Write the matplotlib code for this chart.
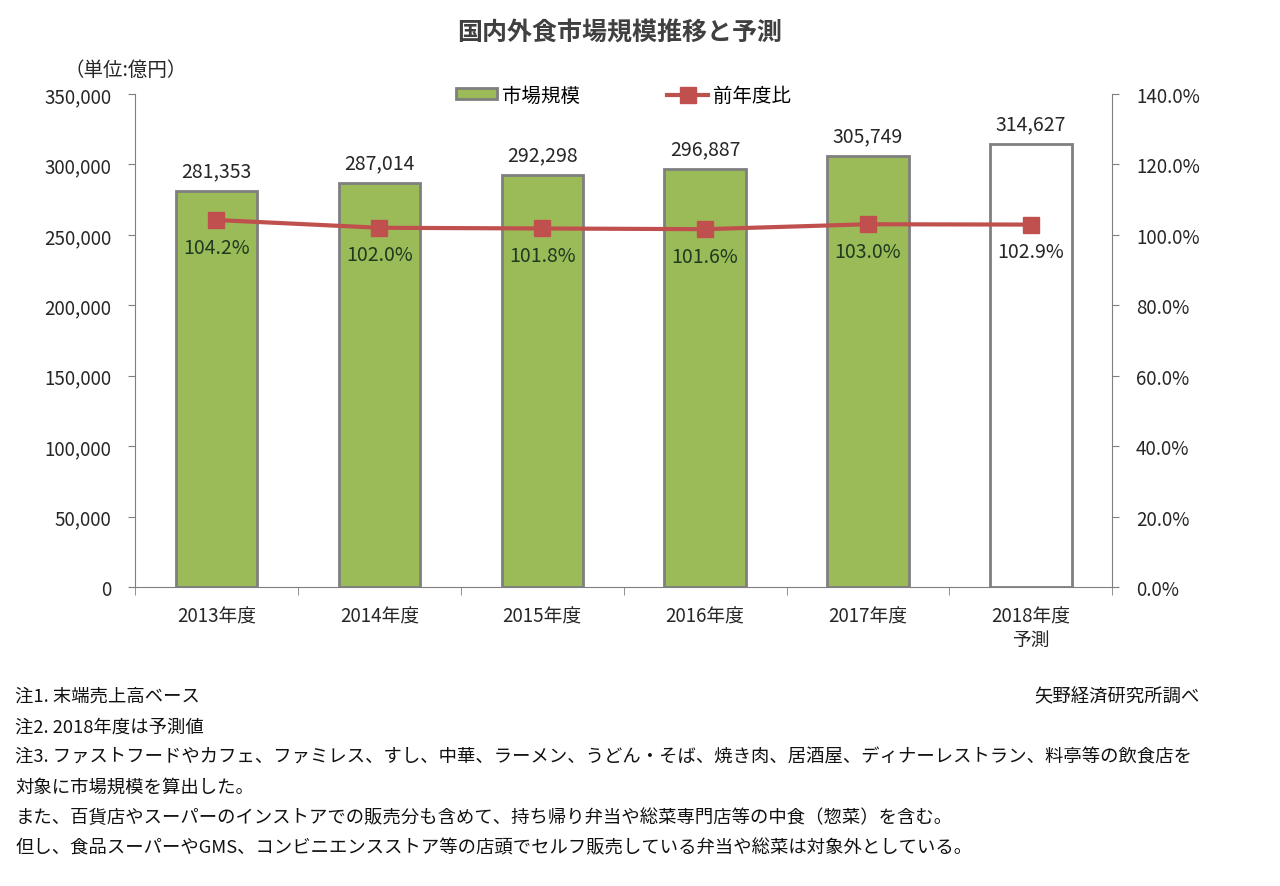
import numpy as np
import matplotlib.pyplot as plt
from matplotlib.ticker import FuncFormatter, MultipleLocator

plt.rcParams['font.family'] = ['Noto Sans CJK JP', 'DejaVu Sans']

years = ['2013年度', '2014年度', '2015年度', '2016年度', '2017年度', '2018年度\n予測']
market = [281353, 287014, 292298, 296887, 305749, 314627]
ratio = [104.2, 102.0, 101.8, 101.6, 103.0, 102.9]

notes = [
    '注1. 末端売上高ベース',
    '注2. 2018年度は予測値',
    '注3. ファストフードやカフェ、ファミレス、すし、中華、ラーメン、うどん・そば、焼き肉、居酒屋、ディナーレストラン、料亭等の飲食店を',
    '対象に市場規模を算出した。',
    'また、百貨店やスーパーのインストアでの販売分も含めて、持ち帰り弁当や総菜専門店等の中食（惣菜）を含む。',
    '但し、食品スーパーやGMS、コンビニエンスストア等の店頭でセルフ販売している弁当や総菜は対象外としている。',
]

green = '#9BBB59'
red = '#C0504D'
edge = '#7F7F7F'
txt = '#262626'

fig = plt.figure(figsize=(12.8, 8.87), dpi=100)
ax = fig.add_axes([0.1055, 0.337, 0.7635, 0.556])
x = np.arange(len(years))

colors = [green] * (len(years) - 1) + ['white']
bars = ax.bar(x, market, width=0.5, color=colors, edgecolor=edge, linewidth=2,
              label='市場規模', zorder=2)
for xi, v in zip(x, market):
    ax.annotate(f'{v:,}', (xi, v), xytext=(0, 7), textcoords='offset points',
                ha='center', va='bottom', fontsize=14, color=txt)

ax.set_xlim(-0.5, len(years) - 0.5)
ax.set_ylim(0, 350000)
ax.yaxis.set_major_locator(MultipleLocator(50000))
ax.yaxis.set_major_formatter(FuncFormatter(lambda v, p: f'{int(v):,}'))
ax.set_xticks(x)
ax.set_xticklabels(years, fontsize=13.5, color=txt, linespacing=1.15)
ax.set_xticks(np.arange(-0.5, len(years)), minor=True)
ax.tick_params(axis='x', which='major', length=0, pad=13)
ax.tick_params(axis='x', which='minor', length=6, color=edge, direction='out')
ax.tick_params(axis='y', labelsize=13.5, labelcolor=txt, color=edge, length=5, pad=12)
for s in ['top', 'right']:
    ax.spines[s].set_visible(False)
for s in ['left', 'bottom']:
    ax.spines[s].set_color(edge)

ax2 = ax.twinx()
ax2.set_ylim(0, 140)
ax2.yaxis.set_major_locator(MultipleLocator(20))
ax2.yaxis.set_major_formatter(FuncFormatter(lambda v, p: f'{v:.1f}%'))
ax2.tick_params(axis='y', labelsize=13.5, labelcolor=txt, color=edge, length=5, pad=12)
for s in ['top', 'left', 'bottom']:
    ax2.spines[s].set_visible(False)
ax2.spines['right'].set_color(edge)
ln, = ax2.plot(x, ratio, color=red, linewidth=3, marker='s', markersize=11,
               label='前年度比', zorder=3)
for xi, r in zip(x, ratio):
    ax2.annotate(f'{r:.1f}%', (xi, r), xytext=(0, -12), textcoords='offset points',
                 ha='center', va='top', fontsize=14, color='#1F3A1F' if xi < 5 else txt)

ax.legend([bars, ln], ['市場規模', '前年度比'], loc='lower center', bbox_to_anchor=(0.5, 0.96),
          ncol=2, frameon=False, fontsize=14, columnspacing=4.5, handlelength=2.1,
          handleheight=0.5, handletextpad=0.25, borderaxespad=0)

fig.text(0.484, 0.962, '国内外食市場規模推移と予測', ha='center', va='center',
         fontsize=18, fontweight='bold', color='#404040')
fig.text(0.05, 0.921, '（単位:億円）', ha='left', va='center', fontsize=14, color=txt)

for i, line in enumerate(notes):
    fig.text(0.012, 1 - (697 + i * 30.2) / 887, line, ha='left', va='center',
             fontsize=13.2, color='#111111')
fig.text(0.937, 1 - 697 / 887, '矢野経済研究所調べ', ha='right', va='center',
         fontsize=13.2, color='#111111')

fig.savefig('out.png', dpi=100)
